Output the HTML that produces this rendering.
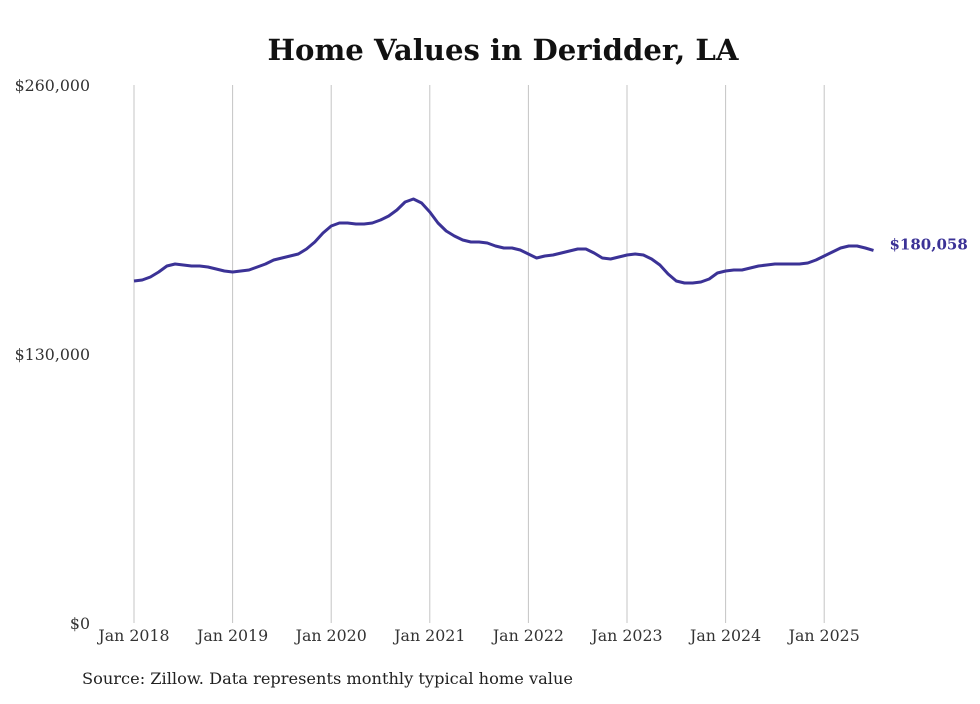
<!DOCTYPE html>
<html><head><meta charset="utf-8">
<style>
html,body{margin:0;padding:0;background:#fff;}
svg text{font-family:"DejaVu Serif","Liberation Serif",serif;}
</style></head>
<body>
<svg id="chart" width="980" height="699" viewBox="0 0 980 699">
<text x="503" y="60" text-anchor="middle" font-size="28.5" font-weight="bold" fill="#111" textLength="471" lengthAdjust="spacingAndGlyphs">Home Values in Deridder, LA</text>
<g id="grid"></g>
<g id="yaxis"></g>
<g id="xaxis"></g>
<path id="line" fill="none" stroke="#3b3296" stroke-width="3" stroke-linejoin="round"></path>
<text id="endlabel" font-size="15" font-weight="bold" fill="#3b3296"></text>
<text x="82" y="684" font-size="16" fill="#222" textLength="491" lengthAdjust="spacingAndGlyphs">Source: Zillow. Data represents monthly typical home value</text>
</svg>
<script>
const yTicks = [0, 130000, 260000];
const yTickLabels = ["$0", "$130,000", "$260,000"];
const xTickYears = [2018, 2019, 2020, 2021, 2022, 2023, 2024, 2025];
const xTickLabels = ["Jan 2018","Jan 2019","Jan 2020","Jan 2021","Jan 2022","Jan 2023","Jan 2024","Jan 2025"];
const startYear = 2018;
const values = [
165290,165770,167220,169640,172540,173500,173020,172540,172540,172050,171090,170120,
169640,170120,170600,172050,173500,175440,176400,177370,178340,180750,184130,188490,
191870,193320,193320,192840,192840,193320,194770,196700,199600,203470,204920,202990,
198640,193320,189450,187040,185100,184130,184130,183650,182200,181240,181240,180270,
178340,176400,177370,177850,178820,179790,180750,180750,178820,176400,175920,176890,
177850,178340,177850,175920,173020,168670,165290,164320,164320,164800,166260,169160,
170120,170600,170600,171570,172540,173020,173500,173500,173500,173500,173990,175440,
177370,179300,181240,182200,182200,181240,180058];
const latestLabel = "$180,058";

const svg = document.getElementById('chart');
const NS = "http://www.w3.org/2000/svg";
const x0 = 134, pxPerYear = 98.6, yBottom = 623, yTop = 85, yMax = 260000;
const xScale = m => x0 + m * pxPerYear / 12;
const yScale = v => yBottom - v / yMax * (yBottom - yTop);

const grid = document.getElementById('grid');
const xa = document.getElementById('xaxis');
xTickYears.forEach((yr, i) => {
  const x = xScale((yr - startYear) * 12);
  const l = document.createElementNS(NS, 'line');
  
  
  l.setAttribute('x1', x); l.setAttribute('x2', x);
  l.setAttribute('y1', yTop); l.setAttribute('y2', yBottom);
  l.setAttribute('stroke', '#c4c4c4'); l.setAttribute('stroke-width', '1');
  grid.appendChild(l);
  const t = document.createElementNS(NS, 'text');
  
  
  t.setAttribute('x', x); t.setAttribute('y', 641);
  t.setAttribute('text-anchor', 'middle'); t.setAttribute('font-size', '15.8'); t.setAttribute('fill', '#333');
  t.textContent = xTickLabels[i];
  xa.appendChild(t);
});
const ya = document.getElementById('yaxis');
yTicks.forEach((v, i) => {
  const t = document.createElementNS(NS, 'text');
  
  
  t.setAttribute('x', 90); t.setAttribute('y', yScale(v) + 6);
  t.setAttribute('text-anchor', 'end'); t.setAttribute('font-size', '15.8'); t.setAttribute('fill', '#333');
  t.textContent = yTickLabels[i];
  ya.appendChild(t);
});
let d = '';
values.forEach((v, i) => { d += (i ? 'L' : 'M') + xScale(i).toFixed(1) + ',' + yScale(v).toFixed(1); });
document.getElementById('line').setAttribute('d', d);
const el = document.getElementById('endlabel');
const last = values.length - 1;
el.setAttribute('x', xScale(last) + 16);
el.setAttribute('y', yScale(values[last]) - 1);
el.textContent = latestLabel;
</script>
</body></html>
